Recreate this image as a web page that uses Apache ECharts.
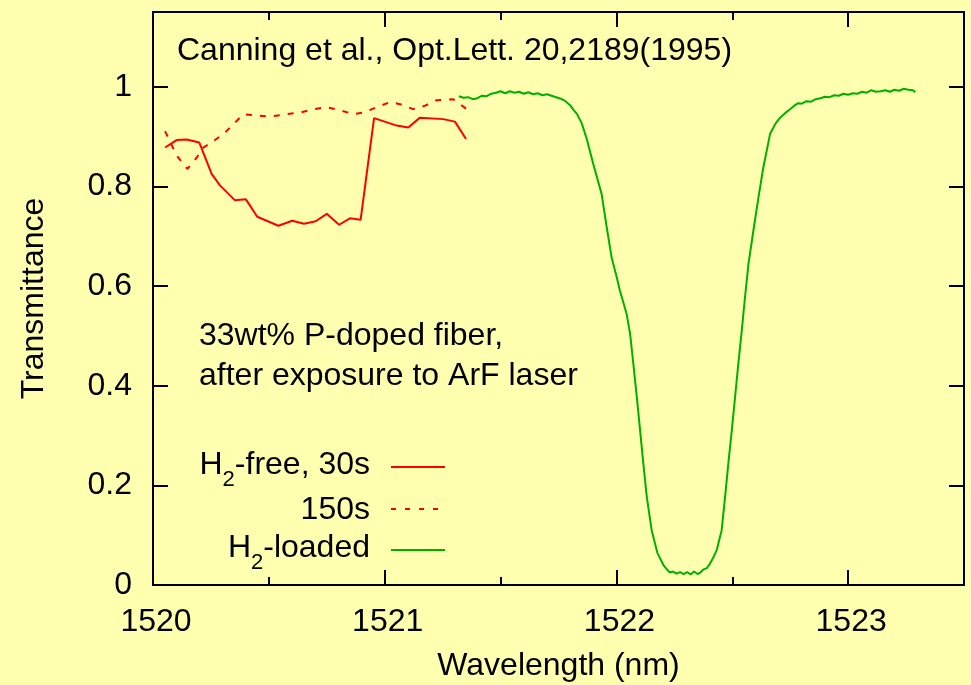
<!DOCTYPE html>
<html>
<head>
<meta charset="utf-8">
<title>Transmittance spectra</title>
<script src="https://cdn.jsdelivr.net/npm/echarts@6/dist/echarts.min.js"></script>
<style>
  html, body { margin: 0; padding: 0; background: #ffffb0; }
  #chart { width: 971px; height: 685px; }
</style>
</head>
<body>
<div id="chart"></div>
<script>
// Wavelength axis (nm) and transmittance axis settings
const xMin = 1520, xMax = 1523.5;
const yMin = 0, yMax = 1.15;
const xTickLabels = ['1520', '1521', '1522', '1523'];
const yTickLabels = ['0', '0.2', '0.4', '0.6', '0.8', '1'];

// H2-free fiber, 30 s exposure: [wavelength nm, transmittance]
const h2free30s = [
  [1520.052, 0.878], [1520.102, 0.893], [1520.145, 0.894], [1520.200, 0.888],
  [1520.253, 0.825], [1520.289, 0.802], [1520.354, 0.772], [1520.401, 0.774],
  [1520.450, 0.739], [1520.541, 0.721], [1520.601, 0.731], [1520.652, 0.725],
  [1520.702, 0.730], [1520.750, 0.745], [1520.803, 0.723], [1520.850, 0.736],
  [1520.896, 0.733], [1520.954, 0.937], [1521.052, 0.922], [1521.102, 0.918],
  [1521.152, 0.938], [1521.253, 0.935], [1521.303, 0.930], [1521.351, 0.895]
];

// H2-free fiber, 150 s exposure
const h2free150s = [
  [1520.052, 0.911], [1520.102, 0.862], [1520.148, 0.835], [1520.189, 0.858],
  [1520.217, 0.878], [1520.253, 0.888], [1520.311, 0.908], [1520.347, 0.925],
  [1520.390, 0.945], [1520.448, 0.942], [1520.505, 0.940], [1520.577, 0.945],
  [1520.634, 0.948], [1520.692, 0.955], [1520.750, 0.959], [1520.807, 0.953],
  [1520.864, 0.945], [1520.908, 0.948], [1520.966, 0.959], [1521.023, 0.969],
  [1521.066, 0.965], [1521.123, 0.955], [1521.174, 0.962], [1521.224, 0.973],
  [1521.296, 0.975], [1521.354, 0.955]
];

// H2-loaded fiber
const h2loaded = [
  [1521.32, 0.981], [1521.34, 0.978], [1521.36, 0.979], [1521.38, 0.975],
  [1521.40, 0.977], [1521.42, 0.982], [1521.44, 0.981], [1521.46, 0.986],
  [1521.48, 0.988], [1521.50, 0.991], [1521.52, 0.987], [1521.54, 0.991],
  [1521.56, 0.988], [1521.58, 0.990], [1521.60, 0.986], [1521.62, 0.989],
  [1521.64, 0.985], [1521.66, 0.987], [1521.68, 0.983], [1521.70, 0.985],
  [1521.72, 0.982], [1521.74, 0.979], [1521.76, 0.976], [1521.78, 0.971],
  [1521.80, 0.963], [1521.814, 0.954], [1521.83, 0.945], [1521.85, 0.927],
  [1521.872, 0.895], [1521.90, 0.845], [1521.936, 0.785], [1521.958, 0.718],
  [1521.979, 0.658], [1522.000, 0.620], [1522.015, 0.591], [1522.044, 0.544],
  [1522.059, 0.504], [1522.073, 0.444], [1522.088, 0.377], [1522.102, 0.311],
  [1522.116, 0.244], [1522.131, 0.177], [1522.152, 0.110], [1522.177, 0.064],
  [1522.203, 0.040], [1522.220, 0.030], [1522.231, 0.025], [1522.245, 0.027],
  [1522.260, 0.023], [1522.275, 0.026], [1522.290, 0.022], [1522.305, 0.026],
  [1522.320, 0.021], [1522.335, 0.027], [1522.350, 0.022], [1522.362, 0.025],
  [1522.375, 0.031], [1522.390, 0.034], [1522.404, 0.043], [1522.418, 0.055],
  [1522.433, 0.070], [1522.454, 0.110], [1522.469, 0.177], [1522.483, 0.244],
  [1522.498, 0.311], [1522.512, 0.377], [1522.526, 0.444], [1522.541, 0.511],
  [1522.555, 0.578], [1522.570, 0.645], [1522.591, 0.711], [1522.613, 0.778],
  [1522.634, 0.838], [1522.663, 0.905], [1522.685, 0.925], [1522.706, 0.938],
  [1522.728, 0.947], [1522.749, 0.955], [1522.767, 0.962], [1522.785, 0.967],
  [1522.80, 0.966], [1522.82, 0.971], [1522.84, 0.970], [1522.86, 0.975],
  [1522.88, 0.977], [1522.90, 0.980], [1522.92, 0.979], [1522.94, 0.983],
  [1522.96, 0.982], [1522.98, 0.986], [1523.00, 0.984], [1523.02, 0.987],
  [1523.04, 0.986], [1523.06, 0.990], [1523.08, 0.988], [1523.10, 0.993],
  [1523.12, 0.990], [1523.14, 0.991], [1523.16, 0.993], [1523.18, 0.990],
  [1523.20, 0.994], [1523.22, 0.992], [1523.24, 0.996], [1523.26, 0.994],
  [1523.28, 0.993], [1523.29, 0.989]
];

const FONT = '"Liberation Sans", Arial, Helvetica, sans-serif';
const FS = 32;
const RED = '#ff0000';
const GREEN = '#00b000';
const INK = '#000000';

const chart = echarts.init(document.getElementById('chart'), null, { renderer: 'canvas' });

function xAxisDef(pos, interval, tickLen, withLabels) {
  return {
    type: 'value', position: pos, min: xMin, max: xMax, interval: interval,
    axisLine: { show: true, onZero: false, lineStyle: { color: INK, width: 2 } },
    axisTick: { show: true, inside: true, length: tickLen, lineStyle: { color: INK, width: 2 } },
    splitLine: { show: false },
    axisLabel: withLabels ? {
      show: true, color: INK, fontFamily: FONT, fontSize: FS, margin: 21,
      padding: [0, 0, 0, 6], showMaxLabel: false,
      formatter: v => xTickLabels.includes(String(v)) ? String(v) : ''
    } : { show: false }
  };
}

function yAxisDef(pos, withLabels) {
  return {
    type: 'value', position: pos, min: yMin, max: yMax, interval: 0.2,
    axisLine: { show: true, onZero: false, lineStyle: { color: INK, width: 2 } },
    axisTick: { show: true, inside: true, length: 15, lineStyle: { color: INK, width: 2 } },
    splitLine: { show: false },
    axisLabel: withLabels ? {
      show: true, color: INK, fontFamily: FONT, fontSize: FS, margin: 21, showMaxLabel: false,
      formatter: v => {
        const s = String(Math.round(v * 10) / 10);
        return yTickLabels.includes(s) ? s : '';
      }
    } : { show: false }
  };
}

const xBottom = xAxisDef('bottom', 1, 15, true);
xBottom.name = 'Wavelength (nm)';
xBottom.nameLocation = 'middle';
xBottom.nameGap = 65;
xBottom.nameTextStyle = { color: INK, fontFamily: FONT, fontSize: FS };

const yLeft = yAxisDef('left', true);
yLeft.name = 'Transmittance';
yLeft.nameLocation = 'middle';
yLeft.nameGap = 103;
yLeft.nameTextStyle = { color: INK, fontFamily: FONT, fontSize: FS };

// subscript helper for the "H2" labels
const rich = {
  n: { fontFamily: FONT, fontSize: FS, fill: INK },
  s: { fontFamily: FONT, fontSize: 22, fill: INK, verticalAlign: 'bottom', padding: [30, 0, 0, 0] }
};

function legendText(text, y) {
  return {
    type: 'text', x: 370, y: y, z: 10,
    style: { text: text, rich: rich, align: 'right', verticalAlign: 'middle', fill: INK, font: FS + 'px ' + FONT }
  };
}
function legendLine(y, color, dash) {
  return {
    type: 'line', z: 10,
    shape: { x1: 391, y1: y, x2: 445, y2: y },
    style: { stroke: color, lineWidth: 2, lineDash: dash || null }
  };
}

const option = {
  backgroundColor: '#ffffb0',
  animation: false,
  grid: { left: 153, right: 7, top: 12, bottom: 100, containLabel: false, outerBoundsMode: 'none' },
  xAxis: [
    xBottom,
    xAxisDef('bottom', 0.5, 8, false),
    xAxisDef('top', 1, 15, false),
    xAxisDef('top', 0.5, 8, false)
  ],
  yAxis: [yLeft, yAxisDef('right', false)],
  series: [
    {
      name: 'H2-free, 30s', type: 'line', data: h2free30s, showSymbol: false,
      xAxisIndex: 0, yAxisIndex: 0,
      lineStyle: { color: RED, width: 2 }, itemStyle: { color: RED }
    },
    {
      name: '150s', type: 'line', data: h2free150s, showSymbol: false,
      xAxisIndex: 0, yAxisIndex: 0,
      lineStyle: { color: RED, width: 2, type: [6, 8] }, itemStyle: { color: RED }
    },
    {
      name: 'H2-loaded', type: 'line', data: h2loaded, showSymbol: false,
      xAxisIndex: 0, yAxisIndex: 0,
      lineStyle: { color: GREEN, width: 2 }, itemStyle: { color: GREEN }
    }
  ],
  graphic: [
    {
      type: 'text', x: 177, y: 51, z: 10,
      style: { text: 'Canning et al., Opt.Lett. 20,2189(1995)', fill: INK, font: FS + 'px ' + FONT, verticalAlign: 'middle' }
    },
    {
      type: 'text', x: 199, y: 336, z: 10,
      style: { text: '33wt% P-doped fiber,', fill: INK, font: FS + 'px ' + FONT, verticalAlign: 'middle' }
    },
    {
      type: 'text', x: 199, y: 376, z: 10,
      style: { text: 'after exposure to ArF laser', fill: INK, font: FS + 'px ' + FONT, verticalAlign: 'middle' }
    },
    legendText('{n|H}{s|2}{n|-free, 30s}', 465),
    legendText('{n|150s}', 510),
    legendText('{n|H}{s|2}{n|-loaded}', 548),
    legendLine(467, RED),
    legendLine(509, RED, [5, 9]),
    legendLine(550, GREEN)
  ]
};

chart.setOption(option);
</script>
</body>
</html>
